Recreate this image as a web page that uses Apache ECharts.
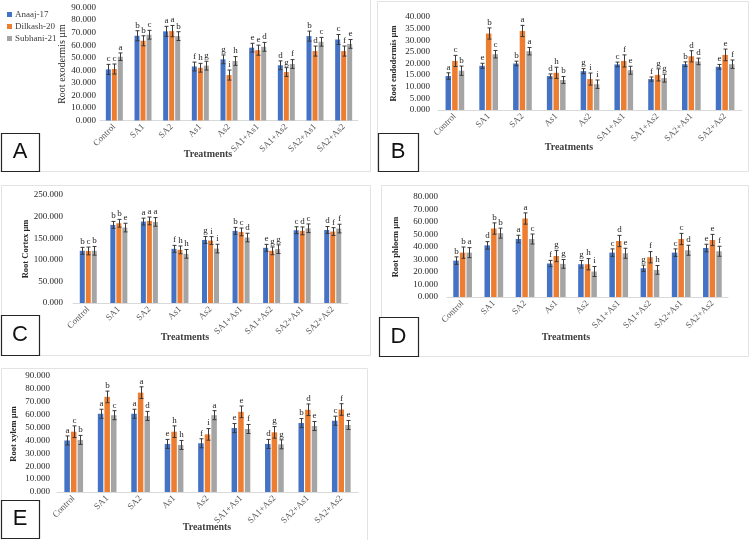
<!DOCTYPE html>
<html><head><meta charset="utf-8">
<script src="https://cdn.jsdelivr.net/npm/echarts@6/dist/echarts.min.js"></script>
<style>html,body{margin:0;padding:0;background:#fff}#c{width:750px;height:540px}</style>
</head><body><div id="c"></div>
<script>
const categories = ["Control","SA1","SA2","As1","As2","SA1+As1","SA1+As2","SA2+As1","SA2+As2"];
const seriesNames = ["Anaaj-17","Dilkash-20","Subhani-21"];

// A: Root exodermis
const exoAnaaj   = [40.7,67.5,71.0,43.0,48.7,58.0,44.0,67.2,64.5];
const exoDilkash = [41.0,63.5,71.2,42.0,36.2,56.0,38.6,55.3,55.3];
const exoSubhani = [50.8,68.3,67.2,43.7,47.4,58.7,45.0,62.7,61.0];
const exoErrAnaaj   = [4,4,4,3.5,3.5,3.5,3.5,4,4];
const exoErrDilkash = [4,4,4.5,3.5,4,4,3.5,4,4];
const exoErrSubhani = [3,3.5,3.5,3.5,3.5,3.5,3.5,3.5,3.5];
const exoLetAnaaj   = ["c","b","a","f","g","e","d","b","c"];
const exoLetDilkash = ["c","b","a","h","i","e","g","d","f"];
const exoLetSubhani = ["a","c","b","g","h","d","f","c","e"];

// B: Root endodermis
const endoAnaaj   = [14.6,19.0,20.0,14.6,16.7,19.6,13.3,19.7,18.6];
const endoDilkash = [21.1,32.9,34.0,16.0,13.3,21.1,15.1,23.1,23.7];
const endoSubhani = [16.9,24.0,25.3,12.9,11.1,17.1,13.7,20.9,19.7];
const endoErrAnaaj   = [1.4,1.1,1.0,0.9,1.1,1.0,0.9,1.0,1.0];
const endoErrDilkash = [2.4,2.4,2.4,2.4,2.6,2.6,2.6,2.4,2.5];
const endoErrSubhani = [2.0,1.6,1.6,1.5,1.8,1.7,1.7,1.4,1.8];
const endoLetAnaaj   = ["a","e","b","d","g","c","f","b","e"];
const endoLetDilkash = ["c","b","a","h","i","f","g","d","e"];
const endoLetSubhani = ["b","c","a","b","i","e","g","d","f"];

// C: Root cortex
const cortAnaaj   = [120.8,180.8,188.5,125.4,146.0,167.0,127.7,168.5,169.0];
const cortDilkash = [120.5,184.6,190.0,123.0,144.6,164.6,120.8,167.0,165.4];
const cortSubhani = [120.8,174.6,187.7,113.8,126.0,151.5,124.6,173.0,172.3];
const cortErrAnaaj   = [8,8,8,8,8,8,8,8,8];
const cortErrDilkash = [9,9,9,9,9,9,9,9,9];
const cortErrSubhani = [10,10,10,10,10,10,10,10,10];
const cortLetAnaaj   = ["b","b","a","f","g","b","e","c","d"];
const cortLetDilkash = ["c","b","a","h","i","c","g","d","f"];
const cortLetSubhani = ["b","e","a","h","i","d","g","c","f"];

// D: Root phloem
const phlAnaaj   = [29.1,41.3,46.4,26.8,26.2,35.5,23.0,35.5,39.2];
const phlDilkash = [35.5,54.8,62.8,32.8,26.2,44.8,31.8,46.4,45.6];
const phlSubhani = [35.5,51.1,46.4,26.5,20.4,35.0,21.7,37.4,36.6];
const phlErrAnaaj   = [3,3,3,2.5,3,3,2.5,3,3];
const phlErrDilkash = [4.5,4.5,4.5,4.5,4.5,4.5,4.5,4.5,4.5];
const phlErrSubhani = [4,4,4,3.5,4,4,3.5,4,4];
const phlLetAnaaj   = ["b","d","a","f","g","c","g","c","e"];
const phlLetDilkash = ["b","b","a","g","h","d","f","c","e"];
const phlLetSubhani = ["a","b","c","g","i","e","h","d","f"];

// E: Root xylem
const xylAnaaj   = [40.0,60.7,60.7,37.3,37.8,49.6,37.3,53.5,55.3];
const xylDilkash = [46.8,73.8,77.1,46.8,44.7,62.2,46.3,63.8,64.0];
const xylSubhani = [40.4,59.6,59.0,36.5,59.6,48.9,37.0,51.2,52.0];
const xylErrAnaaj   = [3.5,3.5,3.5,3.5,3.5,3.5,3.5,3.5,3.5];
const xylErrDilkash = [4.5,4.5,4.5,4.5,4.5,4.5,4.5,4.5,4.5];
const xylErrSubhani = [3.5,3.5,3.5,3.5,3.5,3.5,3.5,3.5,3.5];
const xylLetAnaaj   = ["a","a","a","e","f","e","d","b","c"];
const xylLetDilkash = ["c","b","a","h","i","e","g","d","f"];
const xylLetSubhani = ["b","c","d","h","a","f","g","e","e"];

const yTitles = ["Root exodermis \u00b5m","Root endodermis \u00b5m","Root Cortex \u00b5m","Root phloem \u00b5m","Root xylem \u00b5m"];
const yMax = [90,40,250,80,90];
const yInterval = [10,5,50,10,10];

const panels = [
  {vals:[exoAnaaj,exoDilkash,exoSubhani], errs:[exoErrAnaaj,exoErrDilkash,exoErrSubhani], lets:[exoLetAnaaj,exoLetDilkash,exoLetSubhani]},
  {vals:[endoAnaaj,endoDilkash,endoSubhani], errs:[endoErrAnaaj,endoErrDilkash,endoErrSubhani], lets:[endoLetAnaaj,endoLetDilkash,endoLetSubhani]},
  {vals:[cortAnaaj,cortDilkash,cortSubhani], errs:[cortErrAnaaj,cortErrDilkash,cortErrSubhani], lets:[cortLetAnaaj,cortLetDilkash,cortLetSubhani]},
  {vals:[phlAnaaj,phlDilkash,phlSubhani], errs:[phlErrAnaaj,phlErrDilkash,phlErrSubhani], lets:[phlLetAnaaj,phlLetDilkash,phlLetSubhani]},
  {vals:[xylAnaaj,xylDilkash,xylSubhani], errs:[xylErrAnaaj,xylErrDilkash,xylErrSubhani], lets:[xylLetAnaaj,xylLetDilkash,xylLetSubhani]}
];

// layout (styles/positions)
const grids = [
  {left:100, top:7.5, width:258, height:113},
  {left:438, top:17, width:304, height:93},
  {left:73, top:195, width:275, height:108},
  {left:447, top:197, width:281, height:100},
  {left:57, top:376, width:301, height:116}
];
const labelMargin = [4,8,10,9,7];
const nameGaps = [33,40,43,47,39];
const barW = [5,5.5,5,5.5,5.5];
const colors = ["#4472C4","#ED7D31","#A5A5A5"];
const serif = "'Liberation Serif','DejaVu Serif',serif";

const xAxes = [], yAxes = [], series = [];
panels.forEach((p, g) => {
  xAxes.push({
    type:'category', gridIndex:g, data:categories,
    axisLine:{lineStyle:{color:'#d9d9d9'}}, axisTick:{show:false},
    axisLabel:{rotate:45, fontFamily:serif, fontSize:9, color:'#595959', margin:5, interval:0}
  });
  yAxes.push({
    type:'value', gridIndex:g, min:0, max:yMax[g], interval:yInterval[g],
    splitLine:{show:false}, axisLine:{show:false}, axisTick:{show:false},
    axisLabel:{fontFamily:serif, fontSize:9, color:'#262626', margin:labelMargin[g], formatter:v=>v.toFixed(3)},
    name:yTitles[g], nameLocation:'middle', nameRotate:90, nameGap:nameGaps[g],
    nameTextStyle:{fontFamily:serif, fontSize:g===0?10:8.5, fontWeight:g===0?'normal':'bold', color:'#262626'}
  });
  for (let k = 0; k < 3; k++) {
    series.push({
      type:'bar', name:seriesNames[k], xAxisIndex:g, yAxisIndex:g,
      data:p.vals[k], barWidth:barW[g], barGap:'20%', barCategoryGap:'40%',
      itemStyle:{color:colors[k]}, silent:true
    });
  }
  for (let k = 0; k < 3; k++) {
    const lets = p.lets[k];
    const bw = barW[g];
    const off = (k - 1) * (bw * 1.2);
    series.push({
      type:'custom', xAxisIndex:g, yAxisIndex:g, silent:true, z:10,
      data:p.vals[k].map((v,i)=>[i, v, p.errs[k][i]]),
      renderItem:function(params, api){
        const i = api.value(0), v = api.value(1), e = api.value(2);
        const t = api.coord([i, v + e]);
        const b = api.coord([i, v - e]);
        const x = Math.round(t[0] + off) + 0.5;
        const st = {stroke:'#3a3a3a', lineWidth:1};
        return {type:'group', children:[
          {type:'line', shape:{x1:x, y1:t[1], x2:x, y2:b[1]}, style:st},
          {type:'line', shape:{x1:x-2, y1:t[1], x2:x+2, y2:t[1]}, style:st},
          {type:'line', shape:{x1:x-2, y1:b[1], x2:x+2, y2:b[1]}, style:st},
          {type:'text', style:{x:x, y:t[1]-1, text:lets[params.dataIndex], align:'center', verticalAlign:'bottom',
            textAlign:'center', textVerticalAlign:'bottom', font:"9px 'Liberation Serif', serif", fill:'#262626'}}
        ]};
      }
    });
  }
});

const frame = '#e3e3e3';
function frameRect(x,y,w,h){ return {type:'rect', shape:{x:x+0.5,y:y+0.5,width:w,height:h}, style:{fill:null, stroke:frame, lineWidth:1}, silent:true, z:-1}; }
function letterBox(x,y,w,h,t){
  return {type:'group', children:[
    {type:'rect', shape:{x:x+0.5,y:y+0.5,width:w,height:h}, style:{fill:'#fff', stroke:'#262626', lineWidth:1.2}},
    {type:'text', style:{x:x+w/2, y:y+h/2, text:t, align:'center', verticalAlign:'middle', textAlign:'center', textVerticalAlign:'middle', font:"22px 'Liberation Sans', sans-serif", fill:'#111'}}
  ], z:20};
}
function treat(x,y){ return {type:'text', style:{x:x, y:y, text:'Treatments', align:'center', verticalAlign:'middle', textAlign:'center', textVerticalAlign:'middle', font:"bold 10px 'Liberation Serif', serif", fill:'#404040'}, z:5}; }

const chart = echarts.init(document.getElementById('c'), null, {renderer:'canvas'});
chart.setOption({
  animation:false,
  backgroundColor:'#ffffff',
  grid:grids,
  xAxis:xAxes, yAxis:yAxes, series:series,
  legend:{
    data:seriesNames, orient:'vertical', left:2, top:5, padding:5, itemWidth:5, itemHeight:5, itemGap:3,
    icon:'rect', textStyle:{fontFamily:serif, fontSize:9, color:'#404040', padding:[0,0,0,-2]}
  },
  graphic:[
    frameRect(-1,-1,371,172),
    frameRect(377,1,371,170),
    frameRect(1,185,369,170),
    frameRect(381,185,367,171),
    frameRect(1,368,366,172),
    letterBox(1,133,38,38,'A'),
    letterBox(378,133,40,38,'B'),
    letterBox(1,315,38,40,'C'),
    letterBox(379,317,39,39,'D'),
    letterBox(1,500,38,38,'E'),
    treat(208,154), treat(569,147), treat(185,337), treat(566,337), treat(207,527)
  ]
});
</script></body></html>
